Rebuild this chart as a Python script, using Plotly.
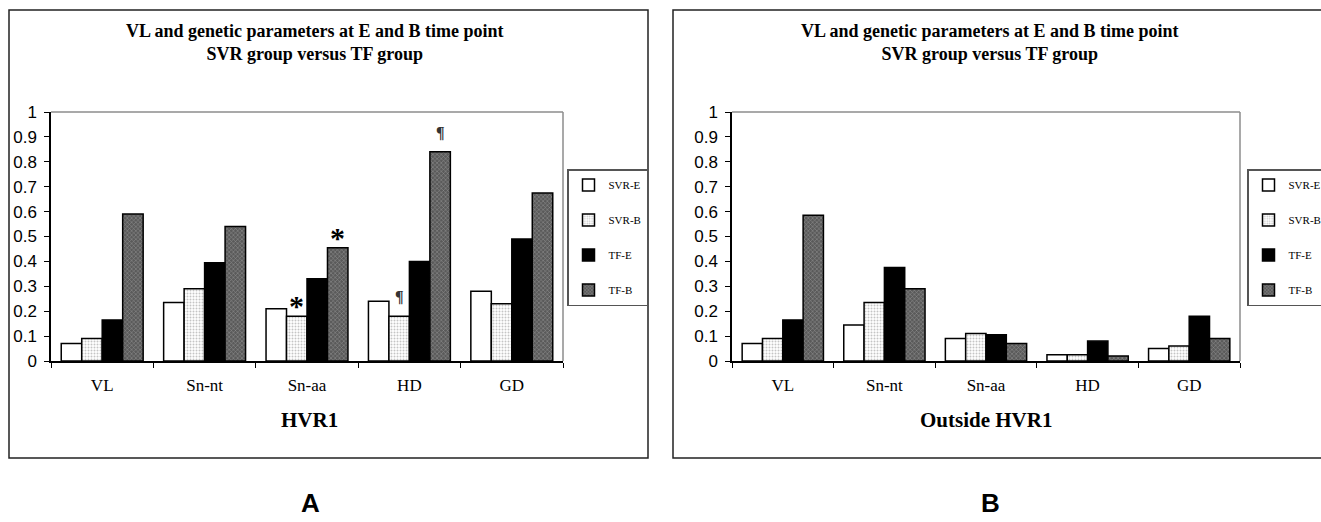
import plotly.graph_objects as go

W, H = 1321, 522

categories = ["VL", "Sn-nt", "Sn-aa", "HD", "GD"]
series_names = ["SVR-E", "SVR-B", "TF-E", "TF-B"]

hvr1_svr_e = [0.07, 0.235, 0.21, 0.24, 0.28]
hvr1_svr_b = [0.09, 0.29, 0.18, 0.18, 0.23]
hvr1_tf_e = [0.165, 0.395, 0.33, 0.40, 0.49]
hvr1_tf_b = [0.59, 0.54, 0.455, 0.84, 0.675]

out_svr_e = [0.07, 0.145, 0.09, 0.025, 0.05]
out_svr_b = [0.09, 0.235, 0.11, 0.025, 0.06]
out_tf_e = [0.165, 0.375, 0.105, 0.08, 0.18]
out_tf_b = [0.585, 0.29, 0.07, 0.02, 0.09]

# significance marks: (category, series index, symbol) for panel A
marks_a = [("Sn-aa", 1, "*"), ("Sn-aa", 3, "*"), ("HD", 1, "¶"), ("HD", 3, "¶")]

title_line1 = "VL and genetic parameters at E and B time point"
title_line2 = "SVR group versus TF group"


def px(x):
    return x / W


def py(y):
    return 1 - y / H


styles = [
    dict(color="white", pattern=None),
    dict(color="white", pattern=dict(shape=".", fgcolor="#8a8a8a", bgcolor="white", size=3, solidity=0.35)),
    dict(color="black", pattern=None),
    dict(color="#6e6e6e", pattern=dict(shape="x", fgcolor="#d0d0d0", bgcolor="#5a5a5a", size=3, solidity=0.3)),
]

fig = go.Figure()

panels = [
    dict(vals=[hvr1_svr_e, hvr1_svr_b, hvr1_tf_e, hvr1_tf_b], xa="x", ya="y", legend="legend"),
    dict(vals=[out_svr_e, out_svr_b, out_tf_e, out_tf_b], xa="x2", ya="y2", legend="legend2"),
]

for pi, p in enumerate(panels):
    for si, (name, vals) in enumerate(zip(series_names, p["vals"])):
        st = styles[si]
        marker = dict(color=st["color"], line=dict(color="black", width=1.5))
        if st["pattern"] is not None:
            marker["pattern"] = st["pattern"]
        fig.add_trace(go.Bar(
            x=categories, y=vals, name=name, marker=marker,
            xaxis=p["xa"], yaxis=p["ya"], legend=p["legend"],
            legendgroup=f"p{pi}s{si}", showlegend=True,
        ))

# plot areas (pixels)
plot_a = (51, 563, 112, 361)
plot_b = (732, 1240, 112, 361)

axis_common_x = dict(
    type="category", tickson="boundaries", ticks="outside", ticklen=5, tickcolor="black",
    tickwidth=1.2, showline=True, linecolor="black", linewidth=1.5, showgrid=False,
    tickfont=dict(family="Liberation Serif", size=17, color="black"), ticklabelstandoff=8,
)
axis_common_y = dict(
    range=[0, 1], dtick=0.1, ticks="outside", ticklen=5, tickcolor="black", tickwidth=1.2,
    showline=True, linecolor="black", linewidth=1.5, showgrid=False, zeroline=False,
    tickfont=dict(family="Liberation Sans", size=17, color="black"), ticklabelstandoff=4,
)

legend_common = dict(xanchor="left", yanchor="top", bordercolor="#555",
                     borderwidth=1.5, bgcolor="white", tracegroupgap=16, itemwidth=30,
                     font=dict(family="Liberation Serif", size=11, color="black"))

fig.update_layout(
    width=W, height=H, margin=dict(l=0, r=0, t=0, b=0, autoexpand=False),
    paper_bgcolor="white", plot_bgcolor="white",
    barmode="group", bargap=0.2, bargroupgap=0,
    xaxis=dict(domain=[px(plot_a[0]), px(plot_a[1])], anchor="y", **axis_common_x),
    yaxis=dict(domain=[py(plot_a[3]), py(plot_a[2])], anchor="x", **axis_common_y),
    xaxis2=dict(domain=[px(plot_b[0]), px(plot_b[1])], anchor="y2", **axis_common_x),
    yaxis2=dict(domain=[py(plot_b[3]), py(plot_b[2])], anchor="x2", **axis_common_y),
    legend=dict(x=px(567), y=py(169), **legend_common),
    legend2=dict(x=px(1247), y=py(169), **legend_common),
    showlegend=True,
)

shapes = []
# outer boxes
shapes.append(dict(type="rect", xref="paper", yref="paper", x0=px(9), x1=px(648), y0=py(458), y1=py(10),
                   line=dict(color="#222", width=1.5)))
shapes.append(dict(type="rect", xref="paper", yref="paper", x0=px(673), x1=px(1335), y0=py(458), y1=py(10),
                   line=dict(color="#222", width=1.5)))
# gray top/right borders of plot areas
for (x0, x1, y0, y1) in [plot_a, plot_b]:
    shapes.append(dict(type="line", xref="paper", yref="paper", x0=px(x0), x1=px(x1), y0=py(y0), y1=py(y0),
                       line=dict(color="#8c8c8c", width=1.5)))
    shapes.append(dict(type="line", xref="paper", yref="paper", x0=px(x1), x1=px(x1), y0=py(y0), y1=py(y1),
                       line=dict(color="#8c8c8c", width=1.5)))
fig.update_layout(shapes=shapes)

annotations = []
title_html = "<b>" + title_line1 + "<br>" + title_line2 + "</b>"
for cx in [315, 990]:
    annotations.append(dict(text=title_html, x=px(cx), y=py(42), xref="paper", yref="paper",
                            xanchor="center", yanchor="middle", showarrow=False,
                            font=dict(family="Liberation Serif", size=18, color="black")))

annotations.append(dict(text="<b>HVR1</b>", x=px(309), y=py(420), xref="paper", yref="paper",
                        xanchor="center", yanchor="middle", showarrow=False,
                        font=dict(family="Liberation Serif", size=21, color="black")))
annotations.append(dict(text="<b>Outside HVR1</b>", x=px(986), y=py(420), xref="paper", yref="paper",
                        xanchor="center", yanchor="middle", showarrow=False,
                        font=dict(family="Liberation Serif", size=21, color="black")))
annotations.append(dict(text="<b>A</b>", x=px(310), y=py(503), xref="paper", yref="paper",
                        xanchor="center", yanchor="middle", showarrow=False,
                        font=dict(family="Liberation Sans", size=26, color="black")))
annotations.append(dict(text="<b>B</b>", x=px(990), y=py(503), xref="paper", yref="paper",
                        xanchor="center", yanchor="middle", showarrow=False,
                        font=dict(family="Liberation Sans", size=26, color="black")))

hvr1_vals = [hvr1_svr_e, hvr1_svr_b, hvr1_tf_e, hvr1_tf_b]
offsets = [-0.3, -0.1, 0.1, 0.3]
for cat, si, sym in marks_a:
    ci = categories.index(cat)
    v = hvr1_vals[si][ci]
    if sym == "*":
        annotations.append(dict(text="<b>*</b>", x=ci + offsets[si], y=v, xref="x", yref="y",
                                xanchor="center", yanchor="bottom", yshift=-8, showarrow=False,
                                font=dict(family="Liberation Serif", size=30, color="black")))
    else:
        annotations.append(dict(text="<b>¶</b>", x=ci + offsets[si], y=v, xref="x", yref="y",
                                xanchor="center", yanchor="bottom", yshift=9, showarrow=False,
                                font=dict(family="Liberation Serif", size=16, color="#333")))
fig.update_layout(annotations=annotations)

fig.write_html("out.html", config={"displayModeBar": False},
               post_script="document.body.style.margin='0';document.body.style.overflow='hidden';")
